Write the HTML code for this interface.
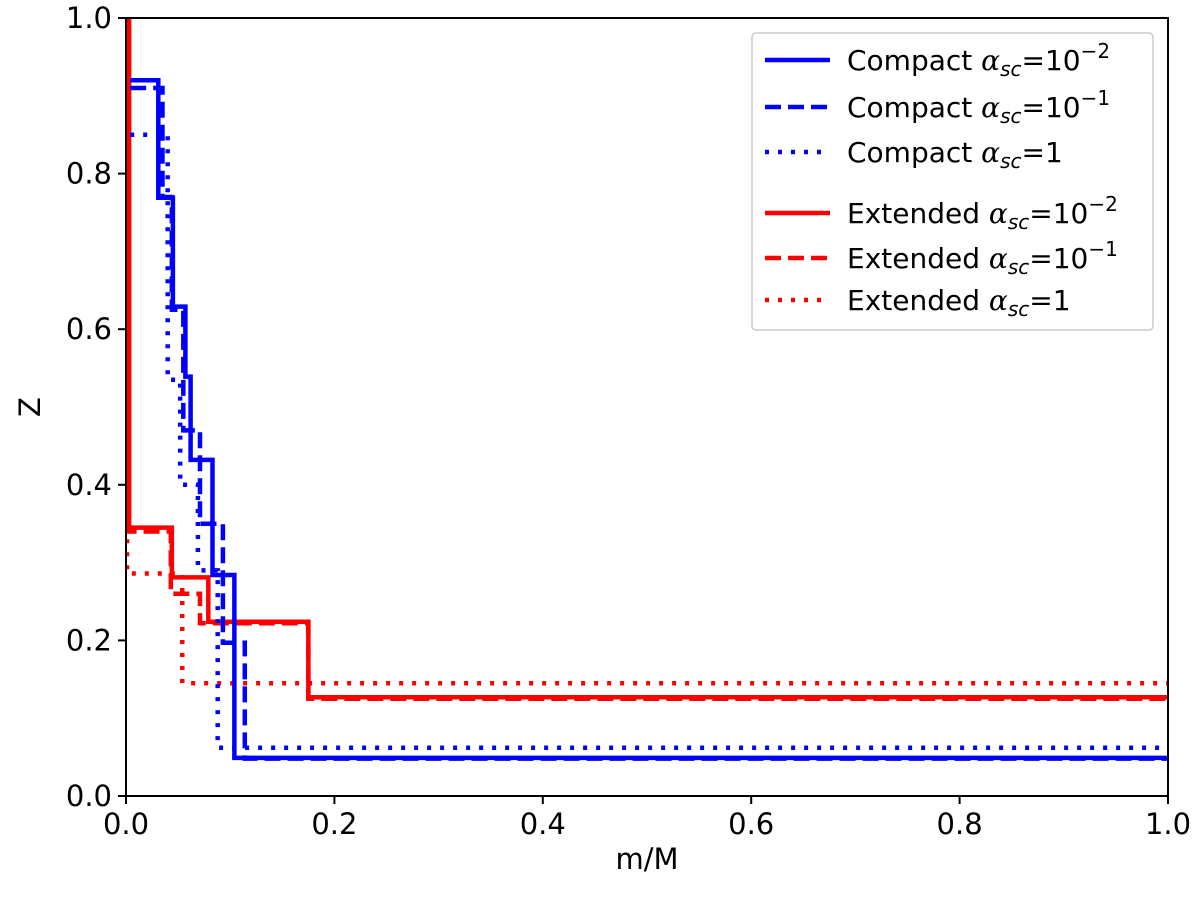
<!DOCTYPE html>
<html><head><meta charset="utf-8">
<style>
body{margin:0;background:#fff;}
svg{display:block;font-family:"DejaVu Sans","Liberation Sans",sans-serif;}
</style></head>
<body>
<svg id="chart" width="1200" height="897">
<g id="marks"></g>
<g id="axes"></g>
<g id="legend"></g>
</svg>
<script>
const xTicks = [0, 0.2, 0.4, 0.6, 0.8, 1.0];
const yTicks = [0, 0.2, 0.4, 0.6, 0.8, 1.0];
const tickLabels = ["0.0", "0.2", "0.4", "0.6", "0.8", "1.0"];
// step series: edges and values (segment i spans edges[i]..edges[i+1])
const compactSolidEdges = [0.004, 0.031, 0.045, 0.057, 0.062, 0.083, 0.104, 1.0];
const compactSolidVals  = [0.92, 0.769, 0.629, 0.539, 0.432, 0.284, 0.049];
const compactDashEdges  = [0.004, 0.035, 0.044, 0.055, 0.071, 0.093, 0.114, 1.0];
const compactDashVals   = [0.91, 0.77, 0.625, 0.47, 0.35, 0.197, 0.048];
const compactDotEdges   = [0.004, 0.04, 0.052, 0.069, 0.088, 1.0];
const compactDotVals    = [0.85, 0.535, 0.40, 0.29, 0.062];
const extSolidEdges     = [0.003, 0.003, 0.044, 0.079, 0.175, 1.0];
const extSolidVals      = [1.0, 0.345, 0.281, 0.224, 0.127];
const extDashEdges      = [0.002, 0.002, 0.043, 0.071, 0.175, 1.0];
const extDashVals       = [1.0, 0.34, 0.26, 0.222, 0.125];
const extDotEdges       = [0.001, 0.001, 0.054, 1.0];
const extDotVals        = [0.33, 0.286, 0.145, 0.145];
const legendLabels = ["Compact", "Compact", "Compact", "Extended", "Extended", "Extended"];
const legendExps = ["−2", "−1", "", "−2", "−1", ""];

const NS = "http://www.w3.org/2000/svg";
const X0 = 126, X1 = 1168, Y0 = 796, Y1 = 18;
const sx = v => X0 + v * (X1 - X0);
const sy = v => Y0 - v * (Y0 - Y1);
function mk(tag, attrs, parent) {
  const e = document.createElementNS(NS, tag);
  for (const k in attrs) e.setAttribute(k, attrs[k]);
  parent.appendChild(e);
  return e;
}
const marks = document.getElementById('marks');
const axes = document.getElementById('axes');
const legend = document.getElementById('legend');
const clip = mk('clipPath', {id: 'clp'}, marks);
mk('rect', {x: X0, y: Y1, width: X1 - X0, height: Y0 - Y1}, clip);

const series = [
  {e: extDotEdges, v: extDotVals, c: '#ff0000', d: '4 9', n: 'extended-alpha-1'},
  {e: extDashEdges, v: extDashVals, c: '#ff0000', d: '16 7', n: 'extended-alpha-0.1'},
  {e: extSolidEdges, v: extSolidVals, c: '#ff0000', d: '', n: 'extended-alpha-0.01'},
  {e: compactDotEdges, v: compactDotVals, c: '#0000ff', d: '4 9', n: 'compact-alpha-1'},
  {e: compactDashEdges, v: compactDashVals, c: '#0000ff', d: '16 7', n: 'compact-alpha-0.1'},
  {e: compactSolidEdges, v: compactSolidVals, c: '#0000ff', d: '', n: 'compact-alpha-0.01'}
];
series.forEach(s => {
  let p = '';
  for (let i = 0; i < s.v.length; i++) {
    p += (i === 0 ? 'M' : 'L') + sx(s.e[i]) + ',' + sy(s.v[i]) + 'L' + sx(s.e[i + 1]) + ',' + sy(s.v[i]);
  }
  const el = mk('path', {d: p, fill: 'none', stroke: s.c, 'stroke-width': 4.5, 'clip-path': 'url(#clp)'}, marks);
  if (s.d) el.setAttribute('stroke-dasharray', s.d);
  
  
});

const frame = mk('rect', {x: X0, y: Y1, width: X1 - X0, height: Y0 - Y1, fill: 'none', stroke: '#000', 'stroke-width': 2}, axes);


xTicks.forEach((t, i) => {
  mk('line', {x1: sx(t), x2: sx(t), y1: Y0, y2: Y0 + 8, stroke: '#000', 'stroke-width': 2}, axes);
  const tx = mk('text', {x: sx(t), y: Y0 + 38, 'font-size': 29, 'text-anchor': 'middle'}, axes);
  tx.textContent = tickLabels[i];
  
  
});
yTicks.forEach((t, i) => {
  mk('line', {x1: X0 - 8, x2: X0, y1: sy(t), y2: sy(t), stroke: '#000', 'stroke-width': 2}, axes);
  const tx = mk('text', {x: X0 - 14, y: sy(t) + 10, 'font-size': 29, 'text-anchor': 'end'}, axes);
  tx.textContent = tickLabels[i];
  
  
});
const xt = mk('text', {x: 647, y: 869, 'font-size': 29, 'text-anchor': 'middle'}, axes);
xt.textContent = 'm/M';


const yt = mk('text', {x: 40, y: 407, 'font-size': 29, 'text-anchor': 'middle', transform: 'rotate(-90 40 407)'}, axes);
yt.textContent = 'Z';



const lb = mk('rect', {x: 752, y: 33, width: 401, height: 297, rx: 4, fill: '#fff', 'fill-opacity': 0.8, stroke: '#ccc', 'stroke-width': 1.5}, legend);


const legY = [60, 107, 152, 213, 258, 300];
const legSeries = [5, 4, 3, 2, 1, 0];
legY.forEach((y, i) => {
  const s = series[legSeries[i]];
  const g = mk('g', {}, legend);
  
  
  const l = mk('line', {x1: 765, x2: 830, y1: y, y2: y, stroke: s.c, 'stroke-width': 4.5}, g);
  if (s.d) l.setAttribute('stroke-dasharray', s.d);
  const t = mk('text', {x: 847, y: y + 10, 'font-size': 28}, g);
  let h = legendLabels[i] + ' <tspan font-family="DejaVu Serif, Liberation Serif, serif" font-style="italic">α</tspan><tspan font-style="italic" font-size="20" dy="6">sc</tspan><tspan dy="-6">=' + (legendExps[i] ? '10</tspan><tspan font-size="20" dy="-12">' + legendExps[i] + '</tspan>' : '1</tspan>');
  t.innerHTML = h;
});
</script>
</body></html>
